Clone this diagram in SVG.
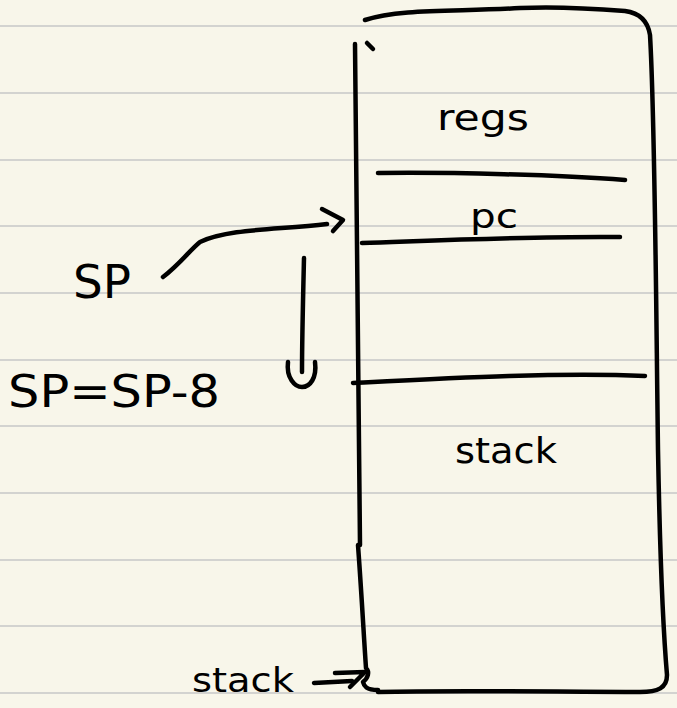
<svg xmlns="http://www.w3.org/2000/svg" width="677" height="708" viewBox="0 0 677 708">
<style>
.rule{stroke:#d3d3d0;stroke-width:2}
.ink{fill:none;stroke:#000;stroke-width:4.5;stroke-linecap:round;stroke-linejoin:round}
.t{font-family:"Comic Sans MS","DejaVu Sans",sans-serif;fill:#000}
</style>
<rect width="677" height="708" fill="#f8f6ea"/>
<g id="rules">
<line class="rule" x1="0" y1="26" x2="677" y2="26"/>
<line class="rule" x1="0" y1="93" x2="677" y2="93"/>
<line class="rule" x1="0" y1="160" x2="677" y2="160"/>
<line class="rule" x1="0" y1="226" x2="677" y2="226"/>
<line class="rule" x1="0" y1="293" x2="677" y2="293"/>
<line class="rule" x1="0" y1="360" x2="677" y2="360"/>
<line class="rule" x1="0" y1="426" x2="677" y2="426"/>
<line class="rule" x1="0" y1="493" x2="677" y2="493"/>
<line class="rule" x1="0" y1="560" x2="677" y2="560"/>
<line class="rule" x1="0" y1="626" x2="677" y2="626"/>
<line class="rule" x1="0" y1="693" x2="677" y2="693"/>
</g>
<g id="memory-box">
<path class="ink" d="M365,20 C400,8 460,12 520,8 C560,6 600,9 625,11 C640,13 648,22 650,35 C655,120 656,300 658,450 C660,560 664,640 667,675 C667,688 658,692 640,692 C560,692 460,690 378,692"/>
<path class="ink" d="M355,44 C357,150 358,300 360,545"/>
<path class="ink" d="M358,545 C362,600 364,640 366,668 C370,672 368,678 363,682 C364,686 366,690 378,690"/>
<path class="ink" d="M367,43 L373,49"/>
</g>
<g id="regs">
<text class="t" x="437" y="130" font-size="36" textLength="92" lengthAdjust="spacingAndGlyphs">regs</text>
<path class="ink" d="M378,173 C450,172 560,175 625,180"/>
</g>
<g id="pc">
<text class="t" x="470" y="228" font-size="34" textLength="48" lengthAdjust="spacingAndGlyphs">pc</text>
<path class="ink" d="M362,243 C450,240 540,236 620,237"/>
</g>
<g id="stack">
<path class="ink" d="M353,383 C450,378 560,372 645,376"/>
<text class="t" x="455" y="463" font-size="36" textLength="102" lengthAdjust="spacingAndGlyphs">stack</text>
</g>
<g id="sp">
<text class="t" x="73" y="298" font-size="46" textLength="58" lengthAdjust="spacingAndGlyphs">SP</text>
</g>
<g id="sp-update">
<text class="t" x="8" y="407" font-size="44" textLength="212" lengthAdjust="spacingAndGlyphs">SP=SP-8</text>
</g>
<g id="stack-label">
<text class="t" x="192" y="692" font-size="34" textLength="102" lengthAdjust="spacingAndGlyphs">stack</text>
</g>
<g id="connectors">
<path class="ink" d="M163,277 C180,264 190,250 200,242 C230,228 280,230 327,224"/>
<path class="ink" d="M322,209 L343,220 L333,231"/>
<path class="ink" d="M304,258 C303,300 302,340 302,372"/>
<path class="ink" d="M288,362 C286,378 295,387 302,387 C310,387 317,378 315,362"/>
<path class="ink" d="M314,683 L352,681"/>
<path class="ink" d="M335,673 L365,672 L350,687"/>
</g>
</svg>
